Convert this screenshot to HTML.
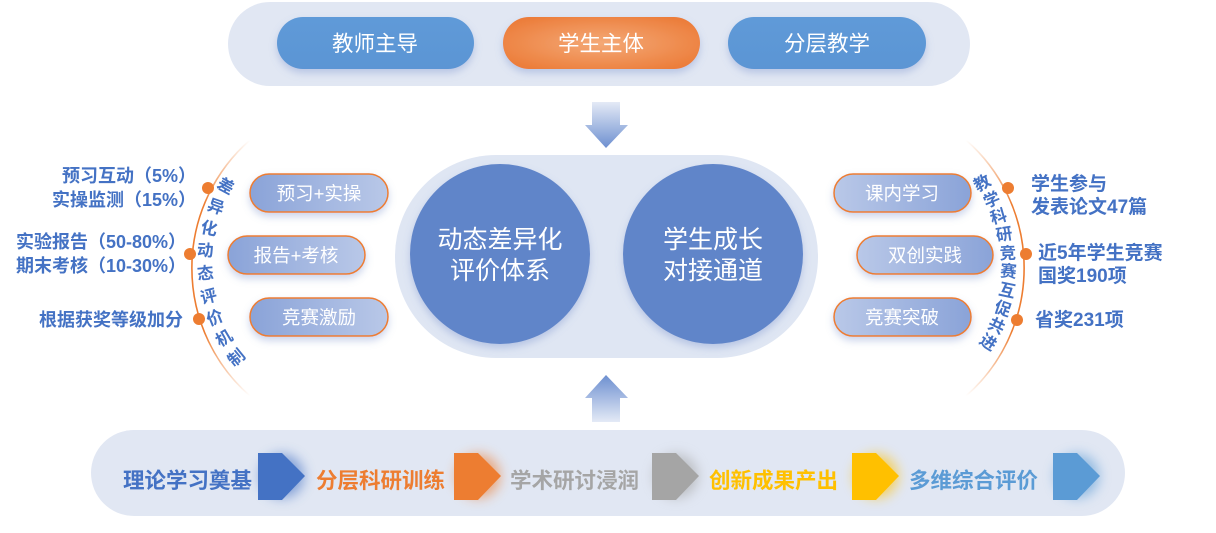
<!DOCTYPE html>
<html><head><meta charset="utf-8"><style>
html,body{margin:0;padding:0;background:#fff}
svg text{font-family:"Liberation Sans","Noto Sans CJK SC",sans-serif}
</style></head><body>
<svg width="1216" height="528" viewBox="0 0 1216 528" xmlns="http://www.w3.org/2000/svg">
<defs>
<linearGradient id="bp" x1="0" y1="0" x2="0" y2="1"><stop offset="0" stop-color="#5f9ad8"/><stop offset="1" stop-color="#5b95d4"/></linearGradient>
<radialGradient id="op" cx="0.5" cy="0.5" r="0.6"><stop offset="0" stop-color="#f4a977"/><stop offset="1" stop-color="#ec7d3a"/></radialGradient>
<linearGradient id="pill" x1="0" y1="0" x2="1" y2="0"><stop offset="0" stop-color="#8aa3d8"/><stop offset="1" stop-color="#b9c8e8"/></linearGradient>
<linearGradient id="pillr" x1="1" y1="0" x2="0" y2="0"><stop offset="0" stop-color="#8aa3d8"/><stop offset="1" stop-color="#b9c8e8"/></linearGradient>
<linearGradient id="ad" x1="0" y1="0" x2="0" y2="1"><stop offset="0" stop-color="#e4eaf6"/><stop offset="1" stop-color="#6d8fd0"/></linearGradient>
<linearGradient id="au" x1="0" y1="1" x2="0" y2="0"><stop offset="0" stop-color="#e4eaf6"/><stop offset="1" stop-color="#6d8fd0"/></linearGradient>
<linearGradient id="arcL" x1="0" y1="0" x2="0" y2="1"><stop offset="0" stop-color="#ed7d31" stop-opacity="0"/><stop offset="0.25" stop-color="#ed7d31"/><stop offset="0.75" stop-color="#ed7d31"/><stop offset="1" stop-color="#ed7d31" stop-opacity="0"/></linearGradient>
<filter id="sh" x="-20%" y="-20%" width="140%" height="150%"><feDropShadow dx="0" dy="4" stdDeviation="4" flood-color="#6a86c8" flood-opacity="0.35"/></filter>
<filter id="glow" x="-50%" y="-50%" width="200%" height="200%"><feGaussianBlur stdDeviation="6"/></filter>
</defs>

<rect x="228" y="2" width="742" height="84" rx="42" fill="#e1e7f3"/>
<rect x="277" y="17" width="197" height="52" rx="26" fill="url(#bp)" filter="url(#sh)"/>
<rect x="503" y="17" width="197" height="52" rx="26" fill="url(#op)" filter="url(#sh)"/>
<rect x="728" y="17" width="198" height="52" rx="26" fill="url(#bp)" filter="url(#sh)"/>
<g fill="#fff" font-size="21.5" text-anchor="middle">
<text x="375" y="51">教师主导</text><text x="601" y="51">学生主体</text><text x="827" y="51">分层教学</text>
</g>

<path d="M592 102 H620 V125 H628 L606 148 L585 125 H592 Z" fill="url(#ad)"/>
<path d="M592 422 H620 V398 H628 L606 375 L585 398 H592 Z" fill="url(#au)"/>

<rect x="395" y="155" width="423" height="203" rx="101" fill="#dfe6f3"/>
<circle cx="500" cy="254" r="90" fill="#6185c9" filter="url(#sh)"/>
<circle cx="713" cy="254" r="90" fill="#6185c9" filter="url(#sh)"/>
<g fill="#fff" font-size="25" text-anchor="middle">
<text x="500" y="248">动态差异化</text><text x="500" y="279">评价体系</text>
<text x="713" y="248">学生成长</text><text x="713" y="279">对接通道</text>
</g>

<path d="M250 140 A170 170 0 0 0 250 396" fill="none" stroke="url(#arcL)" stroke-width="1.6"/>
<path d="M966 140 A170 170 0 0 1 966 396" fill="none" stroke="url(#arcL)" stroke-width="1.6"/>
<g fill="#ed7d31"><circle cx="208" cy="188" r="6"/><circle cx="190" cy="254" r="6"/><circle cx="199" cy="319" r="6"/>
<circle cx="1008" cy="188" r="6"/><circle cx="1026" cy="254" r="6"/><circle cx="1017" cy="320" r="6"/></g>

<g fill="#4472c4" font-size="16.5" font-weight="bold" text-anchor="middle">
<text transform="translate(223,191) rotate(28)">差</text>
<text transform="translate(214,212) rotate(19.6)">异</text>
<text transform="translate(208,234) rotate(11.2)">化</text>
<text transform="translate(205,256) rotate(2.8)">动</text>
<text transform="translate(206,279) rotate(-5.6)">态</text>
<text transform="translate(210,302) rotate(-14)">评</text>
<text transform="translate(217,323) rotate(-22.4)">价</text>
<text transform="translate(227,343) rotate(-30.8)">机</text>
<text transform="translate(240,362) rotate(-39.2)">制</text>
<text transform="translate(985,188) rotate(-30)">教</text>
<text transform="translate(994,205) rotate(-23)">学</text>
<text transform="translate(1000,222) rotate(-16)">科</text>
<text transform="translate(1005,240) rotate(-9)">研</text>
<text transform="translate(1008,259) rotate(-2)">竞</text>
<text transform="translate(1008,277) rotate(5)">赛</text>
<text transform="translate(1006,296) rotate(12)">互</text>
<text transform="translate(1001,314) rotate(19)">促</text>
<text transform="translate(994,331) rotate(26)">共</text>
<text transform="translate(985,347) rotate(33)">进</text>
</g>

<g stroke="#ed7d31" stroke-width="1.5" filter="url(#sh)">
<rect x="250" y="174" width="138" height="38" rx="19" fill="url(#pill)"/>
<rect x="228" y="236" width="137" height="38" rx="19" fill="url(#pill)"/>
<rect x="250" y="298" width="138" height="38" rx="19" fill="url(#pill)"/>
<rect x="834" y="174" width="137" height="38" rx="19" fill="url(#pillr)"/>
<rect x="857" y="236" width="136" height="38" rx="19" fill="url(#pillr)"/>
<rect x="834" y="298" width="137" height="38" rx="19" fill="url(#pillr)"/>
</g>
<g fill="#fff" font-size="18.5" text-anchor="middle">
<text x="319" y="200">预习+实操</text><text x="296" y="262">报告+考核</text><text x="319" y="324">竞赛激励</text>
<text x="902" y="200">课内学习</text><text x="925" y="262">双创实践</text><text x="902" y="324">竞赛突破</text>
</g>

<g fill="#4472c4" font-weight="bold">
<g text-anchor="end" font-size="18">
<text x="196" y="182">预习互动（5%）</text>
<text x="196" y="206">实操监测（15%）</text>
<text x="186" y="248">实验报告（50-80%）</text>
<text x="186" y="272">期末考核（10-30%）</text>
<text x="183" y="326">根据获奖等级加分</text>
</g>
<g font-size="19">
<text x="1031" y="190">学生参与</text>
<text x="1031" y="213">发表论文47篇</text>
<text x="1038" y="259">近5年学生竞赛</text>
<text x="1038" y="282">国奖190项</text>
<text x="1035" y="326">省奖231项</text>
</g>
</g>

<rect x="91" y="430" width="1034" height="86" rx="43" fill="#e1e7f3"/>
<g filter="url(#glow)" opacity="0.6">
<circle cx="282" cy="476" r="22" fill="#4472c4"/><circle cx="478" cy="476" r="22" fill="#ed7d31"/>
<circle cx="676" cy="476" r="22" fill="#a5a5a5"/><circle cx="876" cy="476" r="22" fill="#ffc000"/><circle cx="1077" cy="476" r="22" fill="#5b9bd5"/>
</g>
<path d="M258 453 H282 L305 476 L282 500 H258 Z" fill="#4472c4"/>
<path d="M454 453 H478 L501 476 L478 500 H454 Z" fill="#ed7d31"/>
<path d="M652 453 H676 L699 476 L676 500 H652 Z" fill="#a5a5a5"/>
<path d="M852 453 H876 L899 476 L876 500 H852 Z" fill="#ffc000"/>
<path d="M1053 453 H1077 L1100 476 L1077 500 H1053 Z" fill="#5b9bd5"/>
<g font-size="21.5" font-weight="bold">
<text x="123" y="488" fill="#4472c4">理论学习奠基</text>
<text x="316" y="488" fill="#ed7d31">分层科研训练</text>
<text x="510" y="488" fill="#a5a5a5">学术研讨浸润</text>
<text x="709" y="488" fill="#ffc000">创新成果产出</text>
<text x="909" y="488" fill="#5b9bd5">多维综合评价</text>
</g>
</svg>
</body></html>
